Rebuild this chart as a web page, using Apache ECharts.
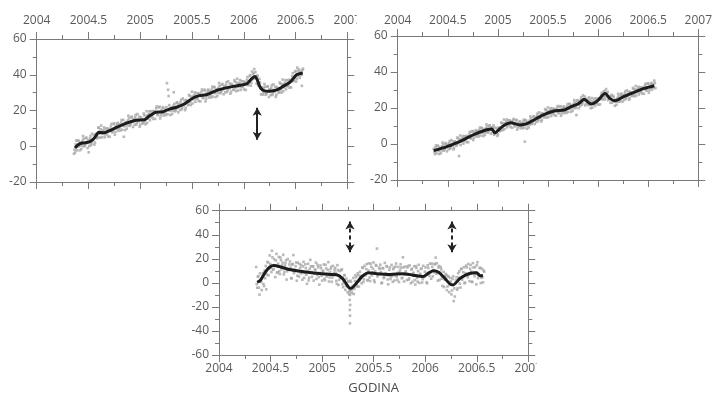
<!DOCTYPE html>
<html>
<head>
<meta charset="utf-8">
<script src="https://cdn.jsdelivr.net/npm/echarts/dist/echarts.min.js"></script>
<style>
  html, body { margin: 0; padding: 0; background: #fff; }
  #chart { width: 715px; height: 397px; }
</style>
</head>
<body>
<div id="chart"></div>
<script>
// Daily positions sampled every 4 days from epoch 2004.36 (decimal years);
// the second list of each panel holds the samples taken 2 days later.
const epochStart = 2004.36;
const epochStep = 4 / 365.25;
const midShift = 2 / 365.25;

const yearRange = [2004, 2007];
const rangeTop = [-20, 60];
const rangeBottom = [-60, 60];

// Panel 1 (upper left): daily values and smoothed curve
const dailyA = [
  -4.2, -3.5, 3.2, 0.0, 3.1, -2.3, 2.1, 0.2, 5.7, -0.1,
  1.0, 4.8, -1.0, -3.4, 4.3, 0.6, 7.0, 3.4, 0.9, 6.9,
  6.5, 5.1, 10.3, 4.8, 11.6, 6.9, 9.0, 5.0, 9.9, 6.9,
  5.5, 9.6, 8.7, 12.5, 7.8, 12.4, 6.4, 11.1, 12.4, 8.6,
  12.3, 8.8, 14.7, 11.5, 5.3, 9.0, 13.5, 11.6, 17.1, 11.4,
  12.6, 16.6, 10.8, 15.1, 16.2, 12.1, 18.0, 13.9, 10.9, 16.2,
  15.0, 12.9, 17.3, 12.3, 19.6, 15.4, 18.1, 14.5, 19.5, 16.6,
  15.3, 19.6, 18.8, 22.3, 17.4, 21.7, 15.6, 20.0, 21.2, 17.2,
  20.9, 17.4, 35.3, 31.6, 23.0, 17.5, 21.7, 19.8, 30.2, 19.5,
  20.6, 24.6, 19.0, 23.4, 24.6, 20.6, 26.7, 22.9, 20.2, 25.9,
  25.1, 23.3, 28.2, 23.1, 30.5, 26.2, 28.6, 24.8, 29.7, 26.6,
  25.3, 29.4, 28.2, 31.8, 26.9, 31.2, 25.1, 29.7, 31.0, 27.2,
  30.8, 27.3, 33.3, 30.0, 32.9, 27.5, 31.9, 29.9, 35.4, 29.7,
  30.9, 34.8, 29.1, 33.3, 34.4, 30.4, 36.3, 32.3, 29.4, 34.8,
  33.7, 31.6, 36.2, 30.8, 37.8, 33.2, 35.5, 31.5, 36.4, 33.2,
  31.8, 35.8, 34.7, 38.7, 34.4, 39.4, 33.9, 41.8, 40.3, 43.2,
  41.5, 35.0, 39.4, 34.5, 35.7, 29.0, 32.6, 30.0, 34.8, 28.8,
  29.8, 33.6, 27.6, 31.8, 32.8, 28.7, 34.6, 30.6, 27.6, 33.0,
  32.1, 30.2, 35.1, 30.0, 37.3, 32.9, 35.5, 31.8, 36.9, 34.0,
  32.8, 37.2, 36.7, 40.9, 36.7, 41.7, 36.2, 44.0, 42.2, 38.3,
  41.8, 33.8, 43.4
];
const dailyA2 = [
  -1.9, 1.0, -2.3, 3.2, -0.1, 1.6, -1.6, 3.0, 4.2, 0.4,
  4.5, 1.8, 3.3, 0.1, 5.7, 1.6, 3.8, 6.1, 2.1, 6.3,
  4.4, 10.5, 6.9, 9.5, 5.0, 8.5, 10.5, 6.6, 7.7, 10.0,
  9.1, 5.3, 11.1, 8.0, 9.6, 12.8, 8.0, 9.8, 13.1, 10.0,
  10.5, 13.3, 9.2, 14.7, 11.2, 12.9, 9.8, 14.4, 15.6, 11.9,
  16.1, 13.6, 15.1, 12.0, 17.6, 13.1, 14.8, 16.6, 12.1, 15.6,
  12.9, 18.3, 13.9, 17.0, 13.0, 17.0, 19.6, 16.1, 17.3, 19.7,
  18.9, 15.3, 21.2, 17.8, 19.2, 22.1, 17.2, 18.7, 21.9, 18.6,
  19.1, 21.9, 17.9, 28.1, 19.8, 21.4, 18.0, 22.6, 23.7, 20.0,
  24.1, 21.6, 23.3, 20.3, 26.0, 21.6, 23.5, 25.6, 21.4, 25.3,
  23.0, 28.7, 24.8, 27.8, 23.9, 27.8, 30.1, 26.4, 27.5, 29.7,
  28.9, 25.1, 30.6, 27.3, 28.7, 31.6, 26.7, 28.4, 31.7, 28.6,
  29.0, 31.8, 27.8, 33.2, 29.7, 31.4, 28.2, 32.7, 33.9, 30.2,
  34.4, 31.8, 33.4, 30.2, 35.8, 31.4, 33.1, 35.0, 30.6, 34.2,
  31.6, 37.0, 32.8, 35.5, 31.2, 34.8, 37.0, 33.1, 34.2, 36.3,
  35.4, 31.5, 37.1, 34.2, 36.2, 39.8, 35.5, 37.5, 41.0, 37.9,
  38.3, 39.5, 33.9, 37.7, 32.5, 32.9, 28.9, 32.8, 33.3, 29.3,
  33.3, 30.6, 31.9, 28.7, 34.2, 29.7, 31.4, 33.3, 28.8, 32.4,
  30.0, 35.6, 31.7, 34.7, 30.7, 34.5, 37.0, 33.4, 34.7, 37.1,
  36.4, 32.9, 39.1, 36.4, 38.5, 42.1, 37.8, 39.6, 42.9, 39.7,
  40.0, 42.7
];
const smoothA = [
  [2004.37, -1], [2004.40, 0.8], [2004.44, 1.8], [2004.51, 2.4], [2004.56, 4.8],
  [2004.60, 7.8], [2004.65, 7.6], [2004.70, 8.6], [2004.77, 10.5], [2004.86, 12.8],
  [2004.96, 14.5], [2005.04, 14.8], [2005.09, 17], [2005.15, 19], [2005.22, 19.3],
  [2005.28, 20.8], [2005.35, 21.8], [2005.42, 23.5], [2005.51, 27], [2005.57, 28.3],
  [2005.64, 28.8], [2005.74, 31.3], [2005.84, 32.8], [2005.90, 33.5], [2005.96, 34.1],
  [2006.03, 35], [2006.08, 38], [2006.11, 39], [2006.16, 32.8], [2006.20, 31],
  [2006.25, 30.8], [2006.32, 31.5], [2006.38, 33.5], [2006.45, 36], [2006.51, 40],
  [2006.57, 41]
];
// [epoch, from, to]
const arrowsA = [[2006.13, 21.6, 3.7]];

// Panel 2 (upper right)
const dailyB = [
  -2.7, -5.6, -0.8, -3.4, -1.2, -5.6, -2.1, -3.6, 0.8, -3.7,
  -2.7, 0.5, -4.1, -0.5, 0.4, -2.6, 2.2, -0.8, -3.0, 1.5,
  0.8, -0.7, 3.1, -6.7, 4.7, 1.2, 3.2, 0.2, 4.3, 2.0,
  1.0, 4.4, 3.7, 6.8, 3.1, 6.9, 2.2, 5.9, 7.1, 4.1,
  7.1, 4.2, 9.1, 6.5, 8.8, 4.4, 8.0, 6.5, 10.9, 6.3,
  7.2, 10.4, 5.7, 9.1, 9.2, 5.1, 9.1, 6.4, 4.5, 9.2,
  8.8, 7.6, 11.6, 7.7, 13.6, 10.3, 12.4, 9.3, 13.2, 10.7,
  9.4, 12.4, 11.3, 13.9, 9.8, 13.1, 8.0, 11.4, 12.1, 8.8,
  11.7, 8.7, 13.5, 1.3, 13.0, 8.5, 12.2, 10.8, 15.3, 11.0,
  12.1, 15.5, 11.1, 14.7, 15.7, 12.7, 17.6, 14.6, 12.5, 17.1,
  16.4, 15.1, 18.8, 14.6, 20.3, 16.8, 18.7, 15.6, 19.6, 17.2,
  16.0, 19.1, 18.2, 21.1, 17.1, 20.7, 15.7, 19.3, 20.3, 17.1,
  20.1, 17.3, 22.2, 19.7, 22.2, 17.9, 21.4, 20.0, 24.4, 20.0,
  16.1, 24.4, 19.9, 23.6, 24.8, 21.9, 27.0, 24.2, 21.4, 25.2,
  23.8, 21.6, 24.7, 19.9, 25.5, 22.1, 24.1, 21.1, 25.2, 22.8,
  21.8, 25.4, 25.0, 28.4, 25.0, 29.1, 24.7, 30.5, 28.4, 24.4,
  26.6, 22.9, 27.3, 24.2, 26.1, 21.2, 24.8, 23.4, 27.9, 23.5,
  24.6, 28.0, 23.5, 27.0, 28.0, 25.0, 29.8, 26.8, 24.6, 29.0,
  28.3, 26.8, 30.6, 26.5, 32.2, 28.7, 30.6, 27.5, 31.5, 29.1,
  28.0, 31.3, 30.5, 33.5, 29.7, 33.4, 28.5, 32.2, 33.3, 30.2,
  33.1, 35.2, 31.0
];
const dailyB2 = [
  -4.2, -2.0, -5.2, -0.9, -3.8, -2.5, -5.1, -1.4, -0.4, -3.3,
  0.1, -1.9, -0.6, -3.0, 1.6, -1.8, -0.3, 1.4, -2.1, 1.0,
  -0.8, 3.6, 0.4, 2.7, -0.6, 2.4, 4.4, 1.5, 2.5, 4.4,
  3.9, 1.0, 5.7, 3.2, 4.6, 7.2, 3.5, 4.9, 7.7, 5.3,
  5.6, 7.8, 4.7, 9.0, 6.2, 7.5, 5.0, 8.7, 9.7, 6.7,
  10.0, 8.0, 9.2, 6.6, 10.4, 5.9, 6.6, 8.6, 5.4, 8.7,
  7.2, 11.9, 8.9, 11.5, 8.3, 11.5, 13.6, 10.6, 11.4, 13.1,
  12.3, 9.0, 13.3, 10.3, 11.3, 13.4, 9.3, 10.4, 12.7, 10.0,
  10.2, 12.3, 9.1, 13.3, 10.4, 11.6, 9.2, 13.0, 14.1, 11.4,
  14.9, 13.1, 14.6, 12.2, 16.9, 13.5, 15.1, 16.8, 13.4, 16.6,
  14.8, 19.4, 16.1, 18.4, 15.0, 18.0, 19.9, 16.9, 17.8, 19.6,
  18.9, 15.7, 20.2, 17.5, 18.6, 21.0, 17.0, 18.3, 20.9, 18.3,
  18.6, 20.9, 17.8, 22.2, 19.6, 21.0, 18.4, 22.2, 23.2, 20.4,
  23.8, 22.0, 23.4, 21.1, 26.0, 22.7, 24.5, 26.4, 22.3, 24.7,
  22.2, 25.9, 22.0, 23.7, 20.2, 23.3, 25.3, 22.4, 23.4, 25.2,
  24.7, 22.0, 27.0, 24.8, 26.5, 29.4, 26.0, 27.3, 29.0, 25.6,
  25.1, 26.5, 22.9, 26.7, 23.5, 24.3, 21.8, 25.6, 26.7, 23.9,
  27.4, 25.6, 27.0, 24.5, 29.2, 25.8, 27.3, 29.0, 25.5, 28.5,
  26.7, 31.1, 27.9, 30.3, 26.9, 29.9, 31.8, 28.8, 29.7, 31.5,
  30.9, 27.9, 32.5, 29.9, 31.2, 33.7, 29.8, 31.2, 33.9, 31.4,
  31.6, 33.8
];
const smoothB = [
  [2004.36, -3.7], [2004.49, -1.5], [2004.65, 2.2], [2004.75, 5], [2004.88, 7.8],
  [2004.94, 8.4], [2004.97, 6.2], [2005.04, 9.5], [2005.10, 11.4], [2005.13, 11.8],
  [2005.22, 10.6], [2005.29, 11.3], [2005.39, 14.3], [2005.47, 16.6], [2005.56, 18.3],
  [2005.66, 18.9], [2005.73, 20.7], [2005.81, 22.6], [2005.86, 24.8], [2005.93, 22.2],
  [2005.99, 23.8], [2006.07, 28], [2006.12, 25.2], [2006.17, 24], [2006.25, 26.2],
  [2006.37, 29], [2006.46, 30.9], [2006.56, 32.4]
];

// Panel 3 (bottom): difference series
const dailyC = [
  13.2, -4.1, 5.6, -9.8, 2.3, -6.0, 8.1, -2.7, 3.9, -5.4,
  17.4, 6.2, 22.8, 12.5, 26.7, 11.0, 19.6, 4.8, 24.1, 8.7,
  21.5, 7.3, 18.9, 14.6, 23.3, 9.1, 16.4, 2.7, 19.8, 11.5,
  17.8, 3.9, 15.2, 23.1, 9.4, 13.9, 1.8, 16.7, 5.2, 12.6,
  14.8, 2.6, 17.5, 8.1, 12.3, -0.8, 15.9, 4.2, 19.1, 9.0,
  13.6, 1.9, 11.2, 16.8, 6.7, 12.9, -1.5, 14.4, 5.8, 10.1,
  15.3, 2.2, 12.0, 7.6, 17.2, 4.5, 11.6, 0.9, 14.1, 8.4,
  12.5, 1.6, 14.7, -1.8, 9.8, 3.9, 11.3, -3.6, 6.2, -5.8,
  3.5, -7.9, 1.2, -6.3, 0.8, -8.4, 4.1, -5.0, 6.3, -1.2,
  7.9, -3.1, 9.2, 4.6, 12.8, 0.7, 14.1, 6.3, 15.6, 2.4,
  16.2, 1.5, 13.4, 8.8, 17.0, 0.6, 14.8, 28.5, 6.9, 12.7,
  15.1, -0.4, 12.2, 4.0, 16.6, 7.8, 13.5, -1.2, 10.9, 3.2,
  14.9, 0.8, 12.7, 6.3, 16.1, 2.5, 13.2, 8.6, 15.4, 3.9,
  21.2, 1.1, 13.6, 6.9, 12.8, 2.6, 14.5, -0.3, 11.7, 7.5,
  13.8, -1.4, 12.4, 1.0, 15.0, 6.8, 11.6, 0.3, 14.2, 4.9,
  12.9, 0.5, 14.6, 8.1, 16.0, 3.4, 13.3, 10.6, 15.8, 21.0,
  16.3, 1.8, 14.0, 8.6, 11.2, -2.5, 9.1, 2.7, 7.4, -6.1,
  5.6, -7.8, 4.1, -9.6, 3.3, -15.2, -11.4, 2.2, -5.7, 8.0,
  9.6, -3.9, 11.5, 5.5, 13.0, 0.2, 14.3, 7.2, 15.7, 1.4,
  14.8, 0.9, 16.4, 8.5, 13.1, -1.3, 17.2, 6.7, 12.3, -0.2,
  11.8, 0.4, 9.3
];
const dailyC2 = [
  -1.0, 5.0, -4.0, 7.9, 0.6, 5.2, -1.0, 10.2, 14.0, 7.0,
  17.0, 12.1, 15.8, 9.0, 21.2, 11.4, 14.7, 18.6, 8.4, 15.9,
  9.6, 21.1, 11.3, 16.8, 7.0, 14.4, 18.7, 9.6, 11.3, 15.3,
  12.7, 3.7, 15.7, 8.1, 10.8, 17.0, 5.9, 9.1, 15.7, 8.0,
  8.3, 13.7, 4.1, 15.4, 6.8, 9.8, 2.0, 11.6, 13.7, 5.0,
  13.7, 7.6, 10.6, 3.3, 15.0, 4.8, 8.2, 12.1, 1.9, 9.5,
  3.4, 15.0, 5.2, 10.8, 1.1, 8.8, 13.3, 4.5, 6.4, 10.8,
  8.3, -0.9, 10.6, 2.5, 4.7, 10.5, -1.2, 0.9, 6.4, -2.4,
  -3.1, 1.3, -9.3, 1.8, -6.1, -2.6, -9.3, 1.5, 4.7, -3.1,
  6.4, 1.5, 5.7, -0.4, 12.4, 2.9, 7.0, 11.5, 2.0, 10.3,
  4.4, 16.0, 6.2, 11.8, 2.1, 9.7, 14.2, 5.3, 7.2, 11.6,
  9.0, 0.2, 12.2, 4.8, 7.5, 13.9, 2.8, 6.1, 12.8, 5.2,
  5.8, 11.4, 1.9, 13.5, 5.2, 8.3, 0.7, 10.4, 12.7, 4.1,
  12.8, 6.7, 9.6, 2.3, 14.0, 3.7, 7.1, 11.0, 0.8, 8.4,
  2.3, 13.9, 4.1, 9.7, -0.1, 7.5, 12.0, 3.1, 5.0, 9.3,
  7.6, -0.4, 12.4, 5.7, 9.1, 16.0, 5.4, 8.9, 15.4, 7.7,
  7.9, 12.8, 2.5, 13.1, 3.5, 5.4, -3.5, 5.3, 6.5, -3.0,
  4.9, -1.6, 1.2, -6.3, 5.4, -4.5, -0.3, 4.7, -4.4, 4.3,
  -0.7, 11.7, 2.6, 8.8, -0.3, 7.9, 12.9, 4.6, 7.1, 11.8,
  9.4, 0.7, 12.8, 5.5, 8.4, 14.8, 3.9, 6.6, 12.5, 4.2,
  4.7, 10.3
];
// Isolated low values around 2005.27
const extraC = [
  [2005.266, -7.3], [2005.270, -10.0], [2005.268, -14.2], [2005.272, -18.4],
  [2005.269, -22.5], [2005.271, -27.3], [2005.270, -33.7]
];
const smoothC = [
  [2004.37, 0.5], [2004.40, 2], [2004.45, 9], [2004.49, 13], [2004.53, 14.5],
  [2004.60, 13.2], [2004.67, 11.3], [2004.76, 10], [2004.84, 9], [2004.97, 7.8],
  [2005.08, 7], [2005.14, 6.8], [2005.20, 3.5], [2005.24, -1.5], [2005.27, -4.5],
  [2005.30, -3.5], [2005.34, 0.5], [2005.39, 5.5], [2005.45, 8.5], [2005.53, 7.6],
  [2005.66, 7], [2005.79, 7.6], [2005.88, 6.4], [2005.98, 5.2], [2006.04, 8.5],
  [2006.08, 10], [2006.13, 8.8], [2006.19, 3.8], [2006.24, -0.9], [2006.27, -1.7],
  [2006.34, 3.8], [2006.43, 7.8], [2006.50, 8.3], [2006.53, 6], [2006.56, 6.2]
];
const arrowsC = [[2005.27, 51, 25.5], [2006.26, 51, 25.5]];

const AXIS = '#7a7a7a';
const TEXT = '#5a5a5a';
const FONT = "'Open Sans', sans-serif";
const DOT = '#a8a8a8';
const CURVE = '#1c1c1c';

const toEpochs = (ys, shift) => ys.map((y, i) => [epochStart + shift + i * epochStep, y]);
const bothSamples = (first, second) => toEpochs(first, 0).concat(toEpochs(second, midShift));

function xAxisDef(grid, position, labelled, margin) {
  return {
    type: 'value', gridIndex: grid, position: position,
    min: yearRange[0], max: yearRange[1], interval: 0.5,
    axisLine: { show: true, onZero: false, lineStyle: { color: AXIS, width: 1 } },
    axisTick: { show: true, length: 7, lineStyle: { color: AXIS } },
    minorTick: { show: true, splitNumber: 2, length: 4, lineStyle: { color: AXIS } },
    splitLine: { show: false }, minorSplitLine: { show: false },
    axisLabel: {
      show: labelled, margin: margin, color: TEXT, fontFamily: FONT, fontSize: 12,
      showMinLabel: true, showMaxLabel: true,
      formatter: v => String(Math.round(v * 10) / 10)
    }
  };
}
function yAxisDef(grid, position, range, labelled) {
  return {
    type: 'value', gridIndex: grid, position: position,
    min: range[0], max: range[1], interval: 20,
    axisLine: { show: true, onZero: false, lineStyle: { color: AXIS, width: 1 } },
    axisTick: { show: true, length: 7, lineStyle: { color: AXIS } },
    minorTick: { show: true, splitNumber: 2, length: 4, lineStyle: { color: AXIS } },
    splitLine: { show: false }, minorSplitLine: { show: false },
    axisLabel: { show: labelled, margin: 10, color: TEXT, fontFamily: FONT, fontSize: 12 }
  };
}

function dots(axis, data) {
  return {
    type: 'scatter', xAxisIndex: axis, yAxisIndex: axis, data: data,
    symbol: 'rect', symbolSize: 2.6, itemStyle: { color: DOT }, z: 2, silent: true,
    large: false
  };
}
function curve(axis, data, arrows, dashed) {
  const s = {
    type: 'line', xAxisIndex: axis, yAxisIndex: axis, data: data,
    showSymbol: false, smooth: 0.25, z: 3, silent: true,
    lineStyle: { color: CURVE, width: 3 }
  };
  if (arrows) {
    s.markLine = {
      silent: true, symbol: ['arrow', 'arrow'], symbolSize: [7, 8],
      label: { show: false },
      lineStyle: { color: '#222', width: 2, type: dashed ? [4, 3] : 'solid' },
      emphasis: { disabled: true },
      data: arrows.map(a => [{ coord: [a[0], a[1]] }, { coord: [a[0], a[2]] }])
    };
  }
  return s;
}

const chart = echarts.init(document.getElementById('chart'), null, { renderer: 'canvas' });
chart.setOption({
  animation: false,
  backgroundColor: '#fff',
  grid: [
    { left: 36.7, top: 39, width: 310.6, height: 143 },
    { left: 397.7, top: 36, width: 309.6, height: 144 },
    { left: 219, top: 210.7, width: 309.3, height: 144.3 }
  ],
  xAxis: [
    xAxisDef(0, 'top', true, 12), xAxisDef(0, 'bottom', false, 0),
    xAxisDef(1, 'top', true, 9), xAxisDef(1, 'bottom', false, 0),
    Object.assign(xAxisDef(2, 'bottom', true, 8), {
      name: 'GODINA', nameLocation: 'middle', nameGap: 27,
      nameTextStyle: { color: '#4a4a4a', fontFamily: FONT, fontSize: 13 }
    }),
    xAxisDef(2, 'top', false, 0)
  ],
  yAxis: [
    yAxisDef(0, 'left', rangeTop, true), yAxisDef(0, 'right', rangeTop, false),
    yAxisDef(1, 'left', rangeTop, true), yAxisDef(1, 'right', rangeTop, false),
    yAxisDef(2, 'left', rangeBottom, true), yAxisDef(2, 'right', rangeBottom, false)
  ],
  series: [
    dots(0, bothSamples(dailyA, dailyA2)), curve(0, smoothA, arrowsA, false),
    dots(2, bothSamples(dailyB, dailyB2)), curve(2, smoothB, null, false),
    dots(4, bothSamples(dailyC, dailyC2)), dots(4, extraC), curve(4, smoothC, arrowsC, true)
  ],
  graphic: [
    { type: 'rect', z: 100, shape: { x: 356.5, y: 6, width: 16, height: 24 }, style: { fill: '#fff' } },
    { type: 'rect', z: 100, shape: { x: 536.5, y: 358, width: 20, height: 18 }, style: { fill: '#fff' } }
  ]
});
</script>
</body>
</html>
